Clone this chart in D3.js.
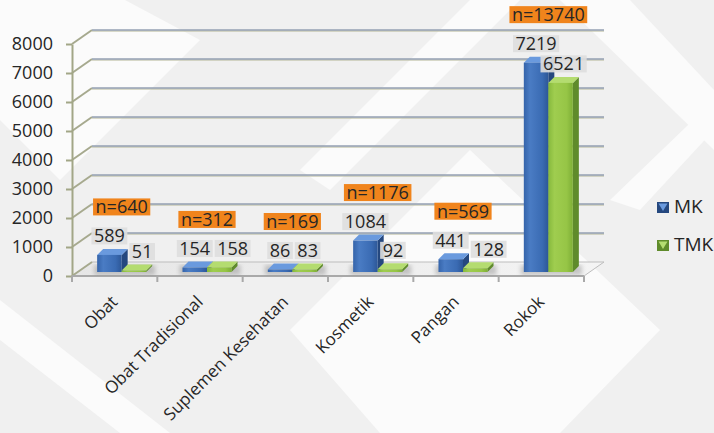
<!DOCTYPE html>
<html>
<head>
<meta charset="utf-8">
<script src="https://cdn.jsdelivr.net/npm/d3@7"></script>
<style>
    body { margin: 0; background: #fff; }
    svg { display: block; font-family: 'Open Sans', sans-serif; }
</style>
</head>
<body>
<svg id="chart" width="714" height="433"></svg>
<script>
const categories = ['Obat', 'Obat Tradisional', 'Suplemen Kesehatan', 'Kosmetik', 'Pangan', 'Rokok'];
const mkValues = [589, 154, 86, 1084, 441, 7219];
const tmkValues = [51, 158, 83, 92, 128, 6521];
const totals = [640, 312, 169, 1176, 569, 13740];
const seriesNames = ['MK', 'TMK'];
const yTicks = [0, 1000, 2000, 3000, 4000, 5000, 6000, 7000, 8000];

const plot = { left: 72, right: 584, top: 44, bottom: 276 };
const wall = { x: 20, y: -14 };
const shift = { x: 7, y: -4 };
const bar3d = { x: 6, y: -6 };

const colors = {
    MK: { front: 'url(#blue-front)', side: '#25487f', top: '#6a9ade' },
    TMK: { front: 'url(#green-front)', side: '#5f8b2b', top: '#b4dc70' }
};

const svg = d3.select('#chart');

// background decoration
const bg = svg.append('g');
bg.append('rect').attr('width', 714).attr('height', 433).attr('fill', '#f0f0f0');
const whiteShapes = [
    [[0, 0], [125, 0], [200, 40], [60, 180], [0, 120]],
    [[300, 170], [470, 0], [520, 0], [330, 190]],
    [[470, 150], [660, 330], [560, 433], [380, 433], [290, 330]],
    [[0, 300], [170, 433], [120, 433], [0, 340]],
    [[560, 0], [630, 0], [714, 90], [714, 150]],
    [[610, 200], [714, 100], [714, 130], [640, 210]]
];
bg.selectAll('polygon')
    .data(whiteShapes)
    .enter()
    .append('polygon')
    .attr('points', d => d.join(' '))
    .attr('fill', '#fbfbfb');

const defs = svg.append('defs');
const addGradient = (id, stops) => {
    const grad = defs.append('linearGradient').attr('id', id)
        .attr('x1', 0).attr('x2', 1).attr('y1', 0).attr('y2', 0);
    stops.forEach(s => grad.append('stop').attr('offset', s[0]).attr('stop-color', s[1]));
};
addGradient('blue-front', [[0, '#3564aa'], [0.25, '#4a7cc4'], [0.75, '#3a6bb3'], [1, '#2d5797']]);
addGradient('green-front', [[0, '#86b93d'], [0.25, '#9fcd4f'], [0.75, '#96c546'], [1, '#7eaf36']]);
addGradient('floor', [[0, '#e6e6e6'], [1, '#f4f4f4']]);
defs.append('filter').attr('id', 'blur')
    .append('feGaussianBlur').attr('stdDeviation', 2);

const y = d3.scaleLinear()
    .domain([0, 8000])
    .range([plot.bottom, plot.top]);

const x0 = d3.scaleBand()
    .domain(categories)
    .range([plot.left, plot.right]);

const x1 = d3.scaleBand()
    .domain(seriesNames)
    .range([0, x0.bandwidth()])
    .paddingOuter(0.74);

// floor
svg.append('polygon')
    .attr('points', [
        [plot.left, y(0)], [plot.right, y(0)],
        [plot.right + wall.x, y(0) + wall.y], [plot.left + wall.x, y(0) + wall.y]
    ].join(' '))
    .attr('fill', 'url(#floor)')
    .attr('stroke', '#bdbdbd')
    .attr('stroke-width', 1);

// gridlines on side and back wall
const grid = svg.append('g');
yTicks.filter(t => t > 0).forEach(t => {
    grid.append('line')
        .attr('x1', plot.left).attr('y1', y(t))
        .attr('x2', plot.left + wall.x).attr('y2', y(t) + wall.y)
        .attr('stroke', '#a6a98e').attr('stroke-width', 2);
    grid.append('line')
        .attr('x1', plot.left + wall.x).attr('y1', y(t) + wall.y + 1)
        .attr('x2', plot.right + wall.x).attr('y2', y(t) + wall.y + 1)
        .attr('stroke', '#b3b596').attr('stroke-width', 1);
    grid.append('line')
        .attr('x1', plot.left + wall.x).attr('y1', y(t) + wall.y)
        .attr('x2', plot.right + wall.x).attr('y2', y(t) + wall.y)
        .attr('stroke', '#95a0b3').attr('stroke-width', 1.5);
});
grid.append('line')
    .attr('x1', plot.left).attr('y1', y(0))
    .attr('x2', plot.left + wall.x).attr('y2', y(0) + wall.y)
    .attr('stroke', '#a6a98e').attr('stroke-width', 2);

// y axis
const yAxis = svg.append('g')
    .attr('transform', `translate(${plot.left},0)`)
    .call(d3.axisLeft(y).tickValues(yTicks).tickSize(6).tickSizeOuter(0).tickPadding(13).tickFormat(d3.format('d')));
yAxis.select('.domain').attr('stroke', '#a2a687').attr('stroke-width', 2);
yAxis.selectAll('.tick line').attr('stroke', '#a2a687').attr('stroke-width', 2);
yAxis.selectAll('.tick text')
    .attr('font-family', "'Open Sans', sans-serif")
    .attr('font-size', 18)
    .attr('fill', '#262626');

// x axis
const xAxis = svg.append('g');
xAxis.append('line')
    .attr('x1', plot.left).attr('y1', y(0))
    .attr('x2', plot.right).attr('y2', y(0))
    .attr('stroke', '#a9a9a9').attr('stroke-width', 2);
[...categories.map(c => x0(c)), plot.right].forEach(px => {
    xAxis.append('line')
        .attr('x1', px).attr('y1', y(0))
        .attr('x2', px).attr('y2', y(0) + 6)
        .attr('stroke', '#a9a9a9').attr('stroke-width', 2);
});
xAxis.selectAll('text')
    .data(categories)
    .enter()
    .append('text')
    .attr('transform', d => `translate(${x0(d) + x0.bandwidth() / 2 + 4},${y(0) + 27}) rotate(-45)`)
    .attr('text-anchor', 'end')
    .attr('font-size', 17)
    .attr('fill', '#262626')
    .text(d => d);

// bars
const rows = categories.map((c, i) => ({
    category: c,
    total: totals[i],
    values: [{ key: 'MK', value: mkValues[i] }, { key: 'TMK', value: tmkValues[i] }]
}));

const base = y(0) + shift.y;
const barW = x1.bandwidth();

const groups = svg.append('g')
    .selectAll('g')
    .data(rows)
    .enter()
    .append('g')
    .attr('transform', d => `translate(${x0(d.category) + shift.x},0)`);

// soft shadow on the floor
groups.append('rect')
    .attr('x', x1('MK') - 3)
    .attr('y', base - 7)
    .attr('width', barW * 2 + bar3d.x + 6)
    .attr('height', 10)
    .attr('fill', '#8c8c8c')
    .attr('opacity', 0.45)
    .attr('filter', 'url(#blur)');

const bars = groups.selectAll('.bar')
    .data(d => d.values)
    .enter()
    .append('g')
    .attr('class', 'bar');

bars.append('polygon')
    .attr('points', d => {
        const bx = x1(d.key) + barW, top = y(d.value) + shift.y;
        return [[bx, top], [bx + bar3d.x, top + bar3d.y], [bx + bar3d.x, base + bar3d.y], [bx, base]].join(' ');
    })
    .attr('fill', d => colors[d.key].side);

bars.append('polygon')
    .attr('points', d => {
        const bx = x1(d.key), top = y(d.value) + shift.y;
        return [[bx, top], [bx + barW, top], [bx + barW + bar3d.x, top + bar3d.y], [bx + bar3d.x, top + bar3d.y]].join(' ');
    })
    .attr('fill', d => colors[d.key].top);

bars.append('rect')
    .attr('x', d => x1(d.key))
    .attr('y', d => y(d.value) + shift.y)
    .attr('width', barW)
    .attr('height', d => Math.max(base - (y(d.value) + shift.y), 1))
    .attr('fill', d => colors[d.key].front);

// labels
const addLabel = (parent, cx, cy, text, fill) => {
    const g = parent.append('g');
    const rect = g.append('rect').attr('fill', fill);
    const t = g.append('text')
        .attr('x', cx)
        .attr('y', cy + 6.5)
        .attr('text-anchor', 'middle')
        .attr('font-size', 18)
        .attr('fill', '#262626')
        .text(text);
    const w = t.node().getComputedTextLength() + 5;
    rect.attr('x', cx - w / 2).attr('y', cy - 8.5).attr('width', w).attr('height', 17);
    return { left: cx - w / 2, right: cx + w / 2, top: cy - 8.5, bottom: cy + 8.5, g };
};

const labelLayer = svg.append('g');
rows.forEach(r => {
    const gx = x0(r.category) + shift.x;
    const placed = r.values.map(v => {
        const cx = gx + x1(v.key) + barW / 2 + (v.key === 'TMK' ? 3 : 0);
        return addLabel(labelLayer, cx, y(v.value) - 23, v.value, 'rgba(222,222,222,0.9)');
    });
    // push the TMK label to the right when it collides with the MK label
    const [a, b] = placed;
    const overlapY = b.top < a.bottom - 1 && b.bottom > a.top + 1;
    if (overlapY && b.left < a.right + 2) {
        b.g.attr('transform', `translate(${a.right + 2 - b.left},0)`);
    }
    const maxV = d3.max(r.values, v => v.value);
    addLabel(labelLayer, gx + x0.bandwidth() / 2, y(maxV) - 52, `n=${r.total}`, '#f0841c');
});

// legend
const legend = svg.append('g')
    .selectAll('g')
    .data(seriesNames)
    .enter()
    .append('g')
    .attr('transform', (d, i) => `translate(657,${202 + i * 38})`);

legend.append('rect')
    .attr('width', 12).attr('height', 11)
    .attr('fill', d => colors[d].side);
legend.append('polygon')
    .attr('points', '1.5,1.5 10.5,1.5 6,9')
    .attr('fill', d => colors[d].top);
legend.append('text')
    .attr('x', 17)
    .attr('y', 11)
    .attr('font-size', 19)
    .attr('fill', '#262626')
    .text(d => d);
</script>
</body>
</html>
